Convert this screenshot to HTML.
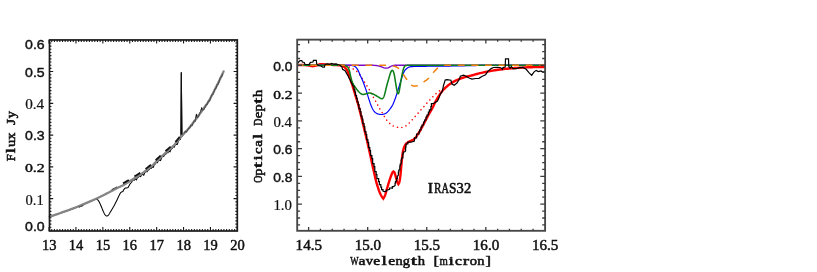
<!DOCTYPE html>
<html><head><meta charset="utf-8"><title>IRAS32 spectrum</title>
<style>
html,body{margin:0;padding:0;background:#fff;}
body{width:817px;height:272px;overflow:hidden;font-family:"Liberation Sans",sans-serif;}
svg{display:block;will-change:transform;}
</style></head><body>
<svg width="817" height="272" viewBox="0 0 817 272">
<rect x="0" y="0" width="817" height="272" fill="#ffffff"/>
<g fill="none" stroke-linejoin="round" stroke-linecap="butt">
<path d="M49.7 216.85 L51.7 216.18 L53.7 215.51 L55.7 214.85 L57.7 214.17 L59.7 213.49 L61.7 212.79 L63.7 212.09 L65.7 211.37 L67.7 210.65 L69.7 209.92 L71.7 209.18 L73.7 208.43 L75.7 207.66 L77.7 206.86 L79.7 206.04 L81.7 205.19 L83.7 204.34 L85.7 203.48 L87.7 202.63 L89.7 201.78 L91.7 200.92 L93.7 200.05 L95.7 199.16 L96.6 198.9 L97.07 199.29 L97.75 199.87 L98.4 200.6 L98.95 201.48 L99.47 202.5 L100 203.6 L100.53 204.77 L101.07 206.03 L101.6 207.3 L102.14 208.62 L102.68 209.97 L103.2 211.2 L103.69 212.29 L104.16 213.27 L104.6 214.1 L105.02 214.74 L105.41 215.23 L105.8 215.6 L106.17 215.85 L106.54 215.97 L106.9 216 L107.26 215.94 L107.63 215.77 L108 215.5 L108.39 215.1 L108.79 214.59 L109.2 214 L109.62 213.33 L110.05 212.58 L110.5 211.8 L110.98 211 L111.49 210.16 L112 209.3 L112.53 208.43 L113.06 207.53 L113.6 206.6 L114.13 205.63 L114.67 204.63 L115.2 203.6 L115.73 202.56 L116.27 201.49 L116.8 200.4 L117.35 199.24 L117.9 198.07 L118.4 197 L118.83 196.11 L119.22 195.33 L119.6 194.6 L120.01 193.83 L120.42 193.1 L120.7 192.6 L121.6 191.9 L122.9 191.4 L123.8 189.6 L125.1 188.1 L126.6 187.9 L128.1 187.5 L129.2 185.4 L130.3 183.6 L131.4 182.5 L132.2 181.08 L133.25 179.74 L134.3 180.3 L135.35 178.77 L136.4 179.92 L137.45 177.57 L138.5 177.3 L139.55 175.91 L140.6 176.7 L141.65 174.58 L142.7 174.54 L143.75 175.29 L144.8 172.62 L145.85 171.35 L146.9 171.87 L147.95 170.18 L149 169.67 L150.05 168.14 L151.1 168.47 L152.15 166.66 L153.2 167.49 L154.25 164.76 L155.3 164.1 L156.35 162.34 L157.4 162.79 L158.45 160.37 L159.5 160.07 L160.55 160.58 L161.6 157.7 L162.65 156.23 L163.7 156.57 L164.75 154.74 L165.8 154.13 L166.85 152.54 L167.9 152.84 L168.95 151.01 L170 151.85 L171.05 149.18 L172.1 148.59 L173.15 146.85 L174.2 147.27 L175.25 144.71 L176.3 144.19 L177.35 144.4 L178.4 141.19 L179.45 139.38 L180.5 139.39 L180.9 135 L181.1 100 L181.3 72.5 L181.6 100 L182 136.4 L182.8 135.4 L184.2 133.41 L185.3 131.37 L186.4 132.03 L187.5 130.14 L188.6 128.2 L189.7 128.08 L190.8 125.32 L191.9 125.72 L193 123.2 L194.1 120.85 L195.2 121.2 L195.6 119.4 L196.5 114.2 L197.3 117.6 L198.5 116.59 L199.6 113.68 L200.9 111 L201.7 107.8 L202.5 110.2 L204 109.13 L205.1 106.91 L206.2 104.65 L207.3 104.23 L208.4 101.1 L209.5 101.03 L210.6 97.95 L211.7 94.98 L212.8 94.65 L213.9 91.8 L215 88.95 L216.1 87.99 L217.2 84.39 L218.3 83.95 L219.4 80.57 L220.5 77.36 L221.6 76.81 L222.7 73.74" stroke="#000" stroke-width="1.05"/>
<path d="M49.7 216.6 L51.03 216.16 L52.85 215.55 L55.01 214.83 L57.36 214.04 L59.74 213.22 L62 212.44 L64.2 211.66 L66.49 210.84 L68.81 210 L71.1 209.16 L73.32 208.33 L75.4 207.53 L77.33 206.77 L79.14 206.02 L80.88 205.3 L82.57 204.57 L84.27 203.84 L86 203.1 L87.78 202.34 L89.58 201.58 L91.37 200.81 L93.16 200.04 L94.9 199.27 L96.6 198.5 L98.23 197.74 L99.8 196.99 L101.34 196.24 L102.87 195.48 L104.42 194.7 L106 193.9 L107.64 193.06 L109.33 192.17 L111.03 191.27 L112.71 190.38 L114.35 189.52 L115.9 188.71 L117.36 187.99 L118.74 187.32 L120.07 186.69 L121.37 186.06 L122.68 185.41 L124 184.7 L125.35 183.93 L126.71 183.11 L128.07 182.27 L129.41 181.42 L130.73 180.59 L132 179.8 L133.23 179.05 L134.42 178.33 L135.58 177.63 L136.73 176.92 L137.86 176.21 L139 175.47 L140.14 174.71 L141.27 173.94 L142.39 173.16 L143.51 172.36 L144.61 171.56 L145.7 170.76 L146.78 169.96 L147.84 169.16 L148.89 168.35 L149.94 167.53 L150.97 166.68 L152 165.8 L153.02 164.87 L154.02 163.89 L155.02 162.89 L156.01 161.88 L157 160.88 L158 159.9 L159.01 158.94 L160.02 157.98 L161.04 157.03 L162.04 156.09 L163.03 155.18 L164 154.3 L164.93 153.47 L165.84 152.7 L166.73 151.94 L167.61 151.19 L168.5 150.42 L169.4 149.6 L170.31 148.76 L171.2 147.94 L172.1 147.09 L173.02 146.19 L173.98 145.2 L175 144.1 L176.09 142.85 L177.23 141.45 L178.41 139.98 L179.61 138.47 L180.82 137 L182 135.6 L183.16 134.31 L184.3 133.1 L185.45 131.92 L186.61 130.71 L187.79 129.43 L189 128.04 L190.28 126.48 L191.63 124.78 L192.99 123.01 L194.34 121.24 L195.62 119.53 L196.8 117.97 L197.84 116.58 L198.77 115.32 L199.64 114.13 L200.49 112.95 L201.36 111.72 L202.3 110.39 L203.31 108.98 L204.37 107.53 L205.44 106.03 L206.53 104.48 L207.62 102.84 L208.7 101.12 L209.79 99.23 L210.91 97.18 L212.02 95.06 L213.11 92.94 L214.15 90.91 L215.1 89.05 L215.95 87.39 L216.73 85.85 L217.44 84.4 L218.13 83 L218.81 81.6 L219.5 80.17 L220.25 78.6 L221.04 76.91 L221.82 75.23 L222.55 73.67 L223.16 72.35 L223.6 71.4" stroke="#858585" stroke-width="2.3" stroke-linecap="round"/>
<path d="M123 183.39 L124.5 182.51 L126 181.64 L127.5 180.72 L129 179.78 L130.5 178.84 L132 177.9 L133.5 176.99 L135 176.08 L136.5 175.16 L138 174.22 L139.5 173.24 L141 172.23 L142.5 171.18 L144 170.11 L145.5 169.01 L147 167.89 L148.5 166.76 L150 165.58 L151.5 164.33 L153 162.98 L154.5 161.51 L156 159.99 L157.5 158.49 L159 157.05 L160.5 155.63 L162 154.23 L163.5 152.85 L165 151.52 L166.5 150.23 L168 148.95 L169.5 147.61 L171 146.26 L172.5 144.89 L174 143.43 L175.5 141.82 L177 140.09 L178.5 138.28 L180 136.47" stroke="#111" stroke-width="1.8" stroke-dasharray="6.8 6.6" stroke-dashoffset="0"/>
<path d="M111.6 189.62 L113 188.88 L114.4 188.14 L115.8 187.41 L117 186.81" stroke="#222" stroke-width="0.8"/>
<path d="M184.2 133.41 L185.3 131.37 L186.4 132.03 L187.5 130.14 L188.6 128.2 L189.7 128.08 L190.8 125.32 L191.9 125.72 L193 123.2 L194.1 120.85 L195.2 121.2 L195.6 119.4 L196.5 114.2 L197.3 117.6 L198.5 116.59 L199.6 113.68 L200.9 111 L201.7 107.8 L202.5 110.2 L204 109.13 L205.1 106.91 L206.2 104.65 L207.3 104.23 L208.4 101.1 L209.5 101.03 L210.6 97.95 L211.7 94.98 L212.8 94.65 L213.9 91.8 L215 88.95 L216.1 87.99 L217.2 84.39 L218.3 83.95 L219.4 80.57 L220.5 77.36 L221.6 76.81 L222.7 73.74" stroke="#222" stroke-width="0.75" stroke-opacity="0.8"/>
<path d="M78.6 206.85 L80 207.26 L81 206.14 L82.2 206.43 L83.2 204.9" stroke="#222" stroke-width="0.8"/>
<path d="M180.9 134 L181.1 100 L181.3 72.5 L181.6 100 L182 135" stroke="#111" stroke-width="0.8"/>
</g>
<rect x="49.5" y="39.95" width="187.8" height="191.05" fill="none" stroke="#1a1a1a" stroke-width="1.7"/>
<path d="M49.05 231 v-3.9M49.05 39.95 v3.6M51.74 231 v-2.1M51.74 39.95 v2.1M54.43 231 v-2.1M54.43 39.95 v2.1M57.12 231 v-2.1M57.12 39.95 v2.1M59.81 231 v-2.1M59.81 39.95 v2.1M62.5 231 v-2.1M62.5 39.95 v2.1M65.19 231 v-2.1M65.19 39.95 v2.1M67.88 231 v-2.1M67.88 39.95 v2.1M70.57 231 v-2.1M70.57 39.95 v2.1M73.26 231 v-2.1M73.26 39.95 v2.1M75.95 231 v-3.9M75.95 39.95 v3.6M78.64 231 v-2.1M78.64 39.95 v2.1M81.33 231 v-2.1M81.33 39.95 v2.1M84.02 231 v-2.1M84.02 39.95 v2.1M86.71 231 v-2.1M86.71 39.95 v2.1M89.4 231 v-2.1M89.4 39.95 v2.1M92.09 231 v-2.1M92.09 39.95 v2.1M94.78 231 v-2.1M94.78 39.95 v2.1M97.47 231 v-2.1M97.47 39.95 v2.1M100.16 231 v-2.1M100.16 39.95 v2.1M102.85 231 v-3.9M102.85 39.95 v3.6M105.54 231 v-2.1M105.54 39.95 v2.1M108.23 231 v-2.1M108.23 39.95 v2.1M110.92 231 v-2.1M110.92 39.95 v2.1M113.61 231 v-2.1M113.61 39.95 v2.1M116.3 231 v-2.1M116.3 39.95 v2.1M118.99 231 v-2.1M118.99 39.95 v2.1M121.68 231 v-2.1M121.68 39.95 v2.1M124.37 231 v-2.1M124.37 39.95 v2.1M127.06 231 v-2.1M127.06 39.95 v2.1M129.75 231 v-3.9M129.75 39.95 v3.6M132.44 231 v-2.1M132.44 39.95 v2.1M135.13 231 v-2.1M135.13 39.95 v2.1M137.82 231 v-2.1M137.82 39.95 v2.1M140.51 231 v-2.1M140.51 39.95 v2.1M143.2 231 v-2.1M143.2 39.95 v2.1M145.89 231 v-2.1M145.89 39.95 v2.1M148.58 231 v-2.1M148.58 39.95 v2.1M151.27 231 v-2.1M151.27 39.95 v2.1M153.96 231 v-2.1M153.96 39.95 v2.1M156.65 231 v-3.9M156.65 39.95 v3.6M159.34 231 v-2.1M159.34 39.95 v2.1M162.03 231 v-2.1M162.03 39.95 v2.1M164.72 231 v-2.1M164.72 39.95 v2.1M167.41 231 v-2.1M167.41 39.95 v2.1M170.1 231 v-2.1M170.1 39.95 v2.1M172.79 231 v-2.1M172.79 39.95 v2.1M175.48 231 v-2.1M175.48 39.95 v2.1M178.17 231 v-2.1M178.17 39.95 v2.1M180.86 231 v-2.1M180.86 39.95 v2.1M183.55 231 v-3.9M183.55 39.95 v3.6M186.24 231 v-2.1M186.24 39.95 v2.1M188.93 231 v-2.1M188.93 39.95 v2.1M191.62 231 v-2.1M191.62 39.95 v2.1M194.31 231 v-2.1M194.31 39.95 v2.1M197 231 v-2.1M197 39.95 v2.1M199.69 231 v-2.1M199.69 39.95 v2.1M202.38 231 v-2.1M202.38 39.95 v2.1M205.07 231 v-2.1M205.07 39.95 v2.1M207.76 231 v-2.1M207.76 39.95 v2.1M210.45 231 v-3.9M210.45 39.95 v3.6M213.14 231 v-2.1M213.14 39.95 v2.1M215.83 231 v-2.1M215.83 39.95 v2.1M218.52 231 v-2.1M218.52 39.95 v2.1M221.21 231 v-2.1M221.21 39.95 v2.1M223.9 231 v-2.1M223.9 39.95 v2.1M226.59 231 v-2.1M226.59 39.95 v2.1M229.28 231 v-2.1M229.28 39.95 v2.1M231.97 231 v-2.1M231.97 39.95 v2.1M234.66 231 v-2.1M234.66 39.95 v2.1M237.35 231 v-3.9M237.35 39.95 v3.6M49.5 227.27 h1.9M237.3 227.27 h-1.9M49.5 224.09 h1.9M237.3 224.09 h-1.9M49.5 220.92 h1.9M237.3 220.92 h-1.9M49.5 217.74 h1.9M237.3 217.74 h-1.9M49.5 214.56 h1.9M237.3 214.56 h-1.9M49.5 211.38 h1.9M237.3 211.38 h-1.9M49.5 208.2 h1.9M237.3 208.2 h-1.9M49.5 205.03 h1.9M237.3 205.03 h-1.9M49.5 201.85 h1.9M237.3 201.85 h-1.9M49.5 198.67 h3.7M237.3 198.67 h-3.7M49.5 195.49 h1.9M237.3 195.49 h-1.9M49.5 192.31 h1.9M237.3 192.31 h-1.9M49.5 189.14 h1.9M237.3 189.14 h-1.9M49.5 185.96 h1.9M237.3 185.96 h-1.9M49.5 182.78 h1.9M237.3 182.78 h-1.9M49.5 179.6 h1.9M237.3 179.6 h-1.9M49.5 176.42 h1.9M237.3 176.42 h-1.9M49.5 173.25 h1.9M237.3 173.25 h-1.9M49.5 170.07 h1.9M237.3 170.07 h-1.9M49.5 166.89 h3.7M237.3 166.89 h-3.7M49.5 163.71 h1.9M237.3 163.71 h-1.9M49.5 160.53 h1.9M237.3 160.53 h-1.9M49.5 157.36 h1.9M237.3 157.36 h-1.9M49.5 154.18 h1.9M237.3 154.18 h-1.9M49.5 151 h1.9M237.3 151 h-1.9M49.5 147.82 h1.9M237.3 147.82 h-1.9M49.5 144.64 h1.9M237.3 144.64 h-1.9M49.5 141.47 h1.9M237.3 141.47 h-1.9M49.5 138.29 h1.9M237.3 138.29 h-1.9M49.5 135.11 h3.7M237.3 135.11 h-3.7M49.5 131.93 h1.9M237.3 131.93 h-1.9M49.5 128.75 h1.9M237.3 128.75 h-1.9M49.5 125.58 h1.9M237.3 125.58 h-1.9M49.5 122.4 h1.9M237.3 122.4 h-1.9M49.5 119.22 h1.9M237.3 119.22 h-1.9M49.5 116.04 h1.9M237.3 116.04 h-1.9M49.5 112.86 h1.9M237.3 112.86 h-1.9M49.5 109.69 h1.9M237.3 109.69 h-1.9M49.5 106.51 h1.9M237.3 106.51 h-1.9M49.5 103.33 h3.7M237.3 103.33 h-3.7M49.5 100.15 h1.9M237.3 100.15 h-1.9M49.5 96.97 h1.9M237.3 96.97 h-1.9M49.5 93.8 h1.9M237.3 93.8 h-1.9M49.5 90.62 h1.9M237.3 90.62 h-1.9M49.5 87.44 h1.9M237.3 87.44 h-1.9M49.5 84.26 h1.9M237.3 84.26 h-1.9M49.5 81.08 h1.9M237.3 81.08 h-1.9M49.5 77.91 h1.9M237.3 77.91 h-1.9M49.5 74.73 h1.9M237.3 74.73 h-1.9M49.5 71.55 h3.7M237.3 71.55 h-3.7M49.5 68.37 h1.9M237.3 68.37 h-1.9M49.5 65.19 h1.9M237.3 65.19 h-1.9M49.5 62.02 h1.9M237.3 62.02 h-1.9M49.5 58.84 h1.9M237.3 58.84 h-1.9M49.5 55.66 h1.9M237.3 55.66 h-1.9M49.5 52.48 h1.9M237.3 52.48 h-1.9M49.5 49.3 h1.9M237.3 49.3 h-1.9M49.5 46.13 h1.9M237.3 46.13 h-1.9M49.5 42.95 h1.9M237.3 42.95 h-1.9" stroke="#1a1a1a" stroke-width="1.1" fill="none"/>
<g fill="none" stroke-linejoin="round">
<path d="M297.5 65.2 L298.1 65.16 L298.94 65.11 L299.94 65.05 L301 64.99 L302.05 64.95 L303 64.95 L303.87 64.98 L304.72 65.04 L305.56 65.11 L306.38 65.2 L307.2 65.3 L308 65.4 L308.79 65.53 L309.57 65.7 L310.34 65.88 L311.1 66.05 L311.85 66.16 L312.6 66.2 L313.35 66.15 L314.11 66.03 L314.86 65.87 L315.59 65.68 L316.31 65.48 L317 65.3 L317.64 65.11 L318.23 64.89 L318.79 64.67 L319.37 64.46 L320 64.3 L320.7 64.2 L321.48 64.18 L322.32 64.23 L323.21 64.31 L324.12 64.42 L325.06 64.52 L326 64.6 L326.96 64.66 L327.95 64.71 L328.96 64.76 L329.97 64.8 L330.99 64.85 L332 64.9 L333.02 64.95 L334.07 64.99 L335.12 65.03 L336.15 65.08 L337.12 65.13 L338 65.2 L338.79 65.27 L339.52 65.33 L340.19 65.41 L340.81 65.5 L341.41 65.63 L342 65.8 L342.56 66.01 L343.09 66.25 L343.59 66.52 L344.07 66.84 L344.54 67.19 L345 67.6 L345.45 68.06 L345.9 68.56 L346.32 69.1 L346.74 69.69 L347.13 70.32 L347.5 71 L347.84 71.74 L348.16 72.55 L348.46 73.4 L348.74 74.27 L349.02 75.15 L349.3 76 L349.58 76.83 L349.84 77.67 L350.11 78.5 L350.37 79.33 L350.63 80.17 L350.9 81 L351.16 81.78 L351.41 82.48 L351.66 83.19 L351.93 83.96 L352.24 84.88 L352.6 86 L353.02 87.38 L353.5 88.96 L354.02 90.69 L354.55 92.48 L355.08 94.28 L355.6 96 L356.1 97.64 L356.6 99.26 L357.1 100.88 L357.6 102.52 L358.1 104.22 L358.6 106 L359.1 107.88 L359.6 109.83 L360.1 111.84 L360.6 113.88 L361.1 115.94 L361.6 118 L362.1 120.06 L362.59 122.13 L363.09 124.21 L363.59 126.32 L364.09 128.45 L364.6 130.6 L365.13 132.8 L365.67 135.04 L366.21 137.3 L366.76 139.56 L367.29 141.8 L367.8 144 L368.29 146.14 L368.76 148.24 L369.23 150.32 L369.68 152.4 L370.14 154.49 L370.6 156.6 L371.07 158.76 L371.53 160.94 L372 163.14 L372.47 165.33 L372.93 167.49 L373.4 169.6 L373.87 171.69 L374.33 173.79 L374.8 175.85 L375.27 177.86 L375.73 179.79 L376.2 181.6 L376.67 183.32 L377.15 184.96 L377.62 186.51 L378.1 187.98 L378.56 189.34 L379 190.6 L379.43 191.74 L379.85 192.77 L380.26 193.7 L380.65 194.54 L381.03 195.3 L381.4 196 L381.77 196.63 L382.14 197.17 L382.5 197.64 L382.83 198.03 L383.1 198.35 L383.3 198.6 L383.48 198.28 L383.74 197.87 L384.04 197.38 L384.36 196.79 L384.69 196.13 L385 195.4 L385.29 194.57 L385.59 193.64 L385.88 192.63 L386.18 191.56 L386.49 190.48 L386.8 189.4 L387.12 188.3 L387.45 187.16 L387.79 186 L388.13 184.84 L388.46 183.7 L388.8 182.6 L389.14 181.53 L389.48 180.47 L389.83 179.42 L390.16 178.42 L390.49 177.47 L390.8 176.6 L391.1 175.78 L391.38 175.01 L391.66 174.29 L391.92 173.64 L392.17 173.08 L392.4 172.6 L392.62 172.24 L392.84 171.98 L393.05 171.8 L393.23 171.68 L393.39 171.59 L393.5 171.5 L393.62 171.6 L393.77 171.71 L393.96 171.85 L394.17 172.06 L394.39 172.37 L394.6 172.8 L394.82 173.4 L395.04 174.14 L395.28 174.98 L395.52 175.87 L395.76 176.76 L396 177.6 L396.24 178.43 L396.48 179.31 L396.73 180.19 L396.96 181.02 L397.19 181.77 L397.4 182.4 L397.6 182.89 L397.8 183.29 L397.99 183.6 L398.16 183.84 L398.3 184.04 L398.4 184.2 L398.51 184.01 L398.66 183.79 L398.84 183.5 L399.03 183.13 L399.22 182.64 L399.4 182 L399.57 181.21 L399.74 180.3 L399.91 179.26 L400.07 178.13 L400.24 176.9 L400.4 175.6 L400.56 174.18 L400.71 172.63 L400.86 170.99 L401 169.3 L401.15 167.63 L401.3 166 L401.45 164.39 L401.59 162.76 L401.73 161.14 L401.88 159.55 L402.03 158.03 L402.2 156.6 L402.37 155.27 L402.55 154.01 L402.73 152.82 L402.93 151.7 L403.15 150.62 L403.4 149.6 L403.68 148.62 L403.98 147.69 L404.3 146.81 L404.64 146 L405.01 145.26 L405.4 144.6 L405.82 144.04 L406.26 143.58 L406.72 143.19 L407.21 142.84 L407.7 142.52 L408.2 142.2 L408.71 141.89 L409.24 141.62 L409.77 141.38 L410.32 141.13 L410.86 140.88 L411.4 140.6 L411.94 140.31 L412.47 140.04 L413.01 139.75 L413.55 139.43 L414.08 139.05 L414.6 138.6 L415.11 138.07 L415.6 137.47 L416.09 136.82 L416.58 136.13 L417.08 135.38 L417.6 134.6 L418.14 133.77 L418.7 132.9 L419.26 131.97 L419.84 131.01 L420.42 130.02 L421 129 L421.59 127.94 L422.18 126.84 L422.78 125.7 L423.38 124.54 L423.99 123.37 L424.6 122.2 L425.22 121.02 L425.85 119.81 L426.49 118.59 L427.13 117.37 L427.76 116.17 L428.4 115 L429.03 113.89 L429.65 112.82 L430.27 111.77 L430.9 110.71 L431.54 109.6 L432.2 108.4 L432.87 107.1 L433.53 105.72 L434.21 104.29 L434.91 102.84 L435.64 101.4 L436.4 100 L437.21 98.6 L438.05 97.19 L438.93 95.78 L439.81 94.4 L440.71 93.1 L441.6 91.9 L442.49 90.8 L443.39 89.79 L444.29 88.84 L445.19 87.95 L446.1 87.11 L447 86.3 L447.9 85.54 L448.79 84.83 L449.69 84.17 L450.59 83.56 L451.49 82.97 L452.4 82.4 L453.32 81.86 L454.24 81.36 L455.16 80.89 L456.1 80.45 L457.04 80.02 L458 79.6 L458.97 79.19 L459.93 78.81 L460.91 78.44 L461.91 78.08 L462.94 77.74 L464 77.4 L465.09 77.08 L466.19 76.79 L467.31 76.51 L468.48 76.23 L469.71 75.93 L471 75.6 L472.36 75.23 L473.78 74.84 L475.25 74.43 L476.78 74.01 L478.36 73.6 L480 73.2 L481.72 72.8 L483.52 72.4 L485.38 72 L487.26 71.61 L489.14 71.24 L491 70.9 L492.83 70.59 L494.67 70.3 L496.5 70.03 L498.33 69.77 L500.17 69.53 L502 69.3 L503.81 69.08 L505.59 68.89 L507.38 68.7 L509.19 68.53 L511.05 68.36 L513 68.2 L515.07 68.04 L517.26 67.89 L519.5 67.75 L521.74 67.62 L523.93 67.5 L526 67.4 L527.98 67.32 L529.91 67.26 L531.79 67.21 L533.6 67.17 L535.34 67.14 L537 67.1 L538.65 67.06 L540.3 67.02 L541.89 66.98 L543.32 66.95 L544.52 66.92 L545.4 66.9" stroke="#ff0000" stroke-width="2.4" stroke-linejoin="miter" stroke-miterlimit="6"/>
<path d="M345 65.8 L345.47 65.93 L346.11 66.1 L346.88 66.31 L347.7 66.55 L348.53 66.82 L349.3 67.1 L350.03 67.41 L350.78 67.74 L351.53 68.11 L352.27 68.49 L352.99 68.89 L353.7 69.3 L354.36 69.67 L354.98 70 L355.58 70.35 L356.2 70.77 L356.86 71.34 L357.6 72.1 L358.46 73.15 L359.42 74.47 L360.43 75.92 L361.42 77.4 L362.33 78.76 L363.1 79.9 L363.7 80.79 L364.19 81.52 L364.59 82.15 L364.96 82.72 L365.31 83.29 L365.7 83.9 L366.11 84.54 L366.51 85.18 L366.91 85.81 L367.31 86.43 L367.7 87.06 L368.1 87.7 L368.5 88.33 L368.9 88.96 L369.31 89.59 L369.71 90.24 L370.11 90.9 L370.5 91.6 L370.89 92.34 L371.27 93.13 L371.65 93.94 L372.03 94.75 L372.41 95.54 L372.8 96.3 L373.2 97.02 L373.6 97.71 L374.01 98.39 L374.41 99.06 L374.81 99.72 L375.2 100.4 L375.58 101.08 L375.94 101.76 L376.31 102.44 L376.67 103.12 L377.03 103.81 L377.4 104.5 L377.78 105.21 L378.15 105.93 L378.53 106.66 L378.91 107.39 L379.3 108.1 L379.7 108.8 L380.11 109.47 L380.52 110.12 L380.94 110.76 L381.37 111.39 L381.79 112.04 L382.2 112.7 L382.6 113.38 L382.99 114.08 L383.38 114.79 L383.77 115.5 L384.18 116.2 L384.6 116.9 L385.04 117.6 L385.49 118.3 L385.94 119.01 L386.41 119.7 L386.9 120.36 L387.4 121 L387.92 121.61 L388.44 122.2 L388.99 122.77 L389.54 123.31 L390.12 123.82 L390.7 124.3 L391.29 124.74 L391.89 125.16 L392.51 125.54 L393.14 125.9 L393.8 126.22 L394.5 126.5 L395.24 126.75 L396.03 126.98 L396.85 127.17 L397.68 127.32 L398.5 127.43 L399.3 127.5 L400.09 127.53 L400.87 127.52 L401.66 127.48 L402.43 127.38 L403.18 127.22 L403.9 127 L404.6 126.7 L405.27 126.32 L405.93 125.88 L406.57 125.4 L407.19 124.9 L407.8 124.4 L408.38 123.88 L408.94 123.34 L409.49 122.77 L410.02 122.19 L410.56 121.59 L411.1 121 L411.65 120.4 L412.2 119.79 L412.75 119.17 L413.3 118.54 L413.85 117.92 L414.4 117.3 L414.95 116.68 L415.51 116.06 L416.06 115.44 L416.61 114.83 L417.16 114.21 L417.7 113.6 L418.23 112.99 L418.75 112.38 L419.27 111.77 L419.78 111.17 L420.29 110.58 L420.8 110 L421.3 109.44 L421.8 108.89 L422.29 108.36 L422.79 107.82 L423.29 107.27 L423.8 106.7 L424.32 106.1 L424.85 105.49 L425.39 104.86 L425.93 104.23 L426.46 103.6 L427 103 L427.53 102.42 L428.06 101.85 L428.59 101.29 L429.12 100.74 L429.66 100.17 L430.2 99.6 L430.76 99.01 L431.32 98.4 L431.89 97.79 L432.46 97.18 L433.03 96.58 L433.6 96 L434.17 95.43 L434.75 94.87 L435.33 94.33 L435.9 93.79 L436.46 93.28 L437 92.8 L437.56 92.33 L438.14 91.85 L438.71 91.4 L439.24 90.99 L439.68 90.65 L440 90.4" stroke="#ff0000" stroke-width="1.6" stroke-dasharray="0.01 4.4" stroke-linecap="round"/>
<path d="M297.5 65.45 L345 65.45 L350 65.45 L350.42 65.47 L351.01 65.49 L351.7 65.51 L352.42 65.56 L353.11 65.65 L353.7 65.8 L354.19 66 L354.63 66.25 L355.03 66.53 L355.42 66.86 L355.79 67.21 L356.16 67.6 L356.52 68 L356.86 68.43 L357.19 68.88 L357.52 69.39 L357.85 69.95 L358.2 70.6 L358.57 71.36 L358.95 72.22 L359.35 73.14 L359.74 74.09 L360.13 75.02 L360.5 75.9 L360.87 76.72 L361.23 77.53 L361.59 78.32 L361.94 79.09 L362.28 79.85 L362.6 80.6 L362.89 81.31 L363.16 81.99 L363.41 82.64 L363.66 83.31 L363.92 84.02 L364.2 84.8 L364.51 85.63 L364.83 86.5 L365.16 87.41 L365.5 88.36 L365.85 89.36 L366.2 90.4 L366.56 91.51 L366.92 92.7 L367.29 93.94 L367.66 95.19 L368.03 96.42 L368.4 97.6 L368.77 98.75 L369.13 99.9 L369.5 101.04 L369.87 102.14 L370.23 103.2 L370.6 104.2 L370.96 105.15 L371.33 106.05 L371.69 106.91 L372.05 107.73 L372.42 108.49 L372.8 109.2 L373.18 109.86 L373.55 110.46 L373.92 111.01 L374.31 111.52 L374.72 111.98 L375.16 112.4 L375.64 112.77 L376.15 113.09 L376.68 113.37 L377.22 113.61 L377.76 113.82 L378.28 114 L378.79 114.16 L379.3 114.29 L379.8 114.38 L380.31 114.45 L380.8 114.49 L381.3 114.5 L381.79 114.48 L382.29 114.44 L382.78 114.37 L383.26 114.27 L383.74 114.15 L384.2 114 L384.66 113.83 L385.1 113.63 L385.54 113.41 L385.97 113.17 L386.39 112.9 L386.8 112.6 L387.19 112.27 L387.57 111.91 L387.94 111.53 L388.3 111.13 L388.65 110.72 L389 110.3 L389.35 109.88 L389.69 109.45 L390.02 109.01 L390.35 108.55 L390.67 108.08 L391 107.6 L391.32 107.12 L391.63 106.64 L391.94 106.16 L392.26 105.63 L392.57 105.05 L392.9 104.4 L393.24 103.65 L393.6 102.81 L393.96 101.93 L394.31 101.01 L394.67 100.09 L395 99.2 L395.32 98.34 L395.62 97.49 L395.92 96.64 L396.21 95.78 L396.5 94.9 L396.8 94 L397.1 93.07 L397.4 92.12 L397.7 91.15 L398 90.17 L398.3 89.19 L398.6 88.2 L398.9 87.2 L399.21 86.19 L399.51 85.16 L399.81 84.15 L400.11 83.16 L400.4 82.2 L400.68 81.27 L400.95 80.36 L401.22 79.48 L401.48 78.61 L401.74 77.79 L402 77 L402.26 76.25 L402.51 75.53 L402.76 74.85 L403 74.2 L403.25 73.58 L403.5 73 L403.75 72.45 L403.99 71.94 L404.23 71.46 L404.48 71.01 L404.73 70.59 L405 70.2 L405.28 69.84 L405.56 69.51 L405.86 69.21 L406.16 68.93 L406.47 68.66 L406.8 68.4 L407.13 68.15 L407.47 67.9 L407.83 67.67 L408.19 67.46 L408.58 67.26 L409 67.1 L409.42 66.97 L409.83 66.86 L410.26 66.78 L410.75 66.72 L411.32 66.66 L412 66.6 L412.76 66.54 L413.56 66.49 L414.44 66.45 L415.44 66.41 L416.62 66.38 L418 66.35 L419.62 66.32 L421.44 66.31 L423.44 66.29 L425.56 66.28 L427.76 66.26 L430 66.25 L432.33 66.24 L434.78 66.22 L437.31 66.21 L439.89 66.2 L442.47 66.18 L445 66.15 L447.44 66.11 L449.81 66.07 L452.19 66.02 L454.63 65.96 L457.21 65.91 L460 65.85 L463.28 65.78 L467.04 65.71 L470.94 65.63 L474.63 65.56 L477.77 65.49 L480 65.45 L545.4 65.45" stroke="#0000ff" stroke-width="1.2"/>
<path d="M297.5 65.2 L360 65.2 L361 65.2 L362 65.2 L363 65.2 L364 65.2 L365 65.2 L366 65.2 L367 65.2 L368 65.2 L369 65.2 L370 65.21 L371 65.22 L372 65.23 L373 65.25 L374 65.3 L375 65.36 L376 65.46 L377 65.61 L378 65.81 L379 66.06 L380 66.37 L381 66.72 L382 67.1 L383 67.47 L384 67.79 L385 68.04 L386 68.18 L387 68.17 L388 67.9 L389 67.4 L390 66.81 L391 66.25 L392 65.82 L393 65.53 L394 65.36 L395 65.27 L396 65.23 L397 65.21 L398 65.2 L399 65.2 L400 65.2 L401 65.2 L402 65.2 L403 65.2 L404 65.2 L405 65.2 L406 65.2 L407 65.2 L408 65.2 L409 65.2 L410 65.2 L411 65.2 L412 65.2 L413 65.2 L414 65.2 L415 65.2 L545.4 65.2" stroke="#7d08c4" stroke-width="1.35"/>
<path d="M297.5 65.2 L343 65.2 L346 65.8 L346.22 65.98 L346.54 66.21 L346.91 66.49 L347.3 66.81 L347.68 67.19 L348 67.6 L348.28 68.06 L348.54 68.57 L348.78 69.12 L349.02 69.72 L349.24 70.35 L349.45 71 L349.65 71.7 L349.82 72.44 L349.99 73.22 L350.15 74.02 L350.32 74.82 L350.5 75.6 L350.69 76.37 L350.87 77.15 L351.06 77.92 L351.26 78.7 L351.47 79.46 L351.7 80.2 L351.94 80.93 L352.2 81.64 L352.46 82.34 L352.75 83.04 L353.06 83.72 L353.4 84.4 L353.78 85.07 L354.19 85.73 L354.62 86.38 L355.07 87.03 L355.53 87.67 L356 88.3 L356.48 88.94 L356.97 89.6 L357.47 90.25 L357.98 90.88 L358.49 91.47 L359 92 L359.51 92.49 L360.01 92.97 L360.52 93.4 L361.03 93.78 L361.56 94.08 L362.1 94.3 L362.66 94.41 L363.23 94.42 L363.81 94.36 L364.4 94.25 L365 94.12 L365.6 94 L366.2 93.85 L366.8 93.63 L367.4 93.4 L368.01 93.19 L368.65 93.04 L369.3 93 L369.98 93.07 L370.69 93.22 L371.41 93.43 L372.14 93.69 L372.87 93.99 L373.6 94.3 L374.34 94.66 L375.11 95.07 L375.88 95.53 L376.63 95.98 L377.35 96.42 L378 96.8 L378.6 97.15 L379.16 97.49 L379.69 97.8 L380.17 98.08 L380.61 98.32 L381 98.5 L381.33 98.63 L381.59 98.72 L381.8 98.77 L381.99 98.77 L382.19 98.71 L382.4 98.6 L382.63 98.44 L382.87 98.24 L383.1 97.99 L383.33 97.68 L383.57 97.28 L383.8 96.8 L384.03 96.22 L384.26 95.55 L384.49 94.81 L384.72 93.99 L384.96 93.12 L385.2 92.2 L385.45 91.2 L385.71 90.09 L385.98 88.93 L386.25 87.75 L386.53 86.59 L386.8 85.5 L387.08 84.47 L387.36 83.47 L387.64 82.49 L387.93 81.53 L388.22 80.57 L388.5 79.6 L388.79 78.59 L389.09 77.55 L389.38 76.51 L389.67 75.51 L389.95 74.59 L390.2 73.8 L390.43 73.13 L390.65 72.56 L390.85 72.08 L391.04 71.66 L391.22 71.3 L391.4 71 L391.57 70.76 L391.72 70.59 L391.87 70.48 L392.01 70.41 L392.15 70.39 L392.3 70.4 L392.45 70.42 L392.6 70.47 L392.74 70.56 L392.89 70.7 L393.04 70.91 L393.2 71.2 L393.36 71.57 L393.53 72.01 L393.7 72.53 L393.87 73.1 L394.04 73.72 L394.2 74.4 L394.35 75.13 L394.5 75.93 L394.64 76.78 L394.79 77.67 L394.94 78.62 L395.1 79.6 L395.27 80.66 L395.46 81.81 L395.64 83 L395.83 84.19 L396.02 85.34 L396.2 86.4 L396.37 87.39 L396.54 88.36 L396.71 89.29 L396.88 90.15 L397.04 90.93 L397.2 91.6 L397.36 92.19 L397.51 92.7 L397.66 93.14 L397.8 93.47 L397.95 93.7 L398.1 93.8 L398.25 93.77 L398.4 93.63 L398.54 93.38 L398.69 93.01 L398.84 92.55 L399 92 L399.16 91.33 L399.32 90.53 L399.48 89.62 L399.65 88.65 L399.82 87.63 L400 86.6 L400.19 85.51 L400.39 84.35 L400.59 83.14 L400.8 81.92 L401 80.73 L401.2 79.6 L401.39 78.53 L401.57 77.47 L401.76 76.45 L401.94 75.46 L402.12 74.51 L402.3 73.6 L402.48 72.73 L402.66 71.89 L402.84 71.09 L403.03 70.33 L403.21 69.63 L403.4 69 L403.59 68.43 L403.79 67.92 L403.98 67.47 L404.18 67.07 L404.39 66.71 L404.6 66.4 L404.79 66.14 L404.96 65.95 L405.13 65.81 L405.33 65.69 L405.61 65.6 L406 65.5 L406.56 65.41 L407.29 65.34 L408.09 65.29 L408.87 65.26 L409.53 65.23 L410 65.2 L545.4 65.2" stroke="#0c7f18" stroke-width="1.55"/>
<path d="M297.5 65.2 L385 65.2 L390 65.5 L390.44 65.57 L391.06 65.66 L391.78 65.76 L392.56 65.89 L393.32 66.03 L394 66.2 L394.62 66.38 L395.23 66.57 L395.82 66.78 L396.4 67.02 L396.96 67.29 L397.5 67.6 L398.02 67.95 L398.51 68.32 L398.99 68.73 L399.46 69.18 L399.92 69.67 L400.4 70.2 L400.88 70.79 L401.35 71.42 L401.82 72.1 L402.3 72.81 L402.79 73.55 L403.3 74.3 L403.83 75.1 L404.39 75.95 L404.96 76.82 L405.52 77.7 L406.07 78.53 L406.6 79.3 L407.1 80.01 L407.58 80.68 L408.04 81.31 L408.5 81.91 L408.95 82.47" stroke="#f0820e" stroke-width="1.5" stroke-dasharray="6.8 6.95" stroke-dashoffset="0.8"/>
<path d="M545.1 65.2 L450 65.2 L444 65.2 L443.63 65.32 L443.11 65.48 L442.51 65.68 L441.85 65.9 L441.2 66.14 L440.6 66.4 L440.05 66.66 L439.53 66.92 L439 67.2 L438.46 67.53 L437.9 67.92 L437.3 68.4 L436.65 68.98 L435.97 69.65 L435.27 70.39 L434.55 71.17 L433.82 71.98 L433.1 72.8 L432.39 73.66 L431.67 74.59 L430.95 75.54 L430.22 76.48 L429.47 77.38 L428.7 78.2 L427.88 78.94 L427.01 79.64 L426.13 80.3 L425.26 80.91 L424.44 81.48 L423.7 82 L423.05 82.47 L422.47 82.88 L421.94 83.24 L421.43 83.58 L420.92 83.89 L420.4 84.2 L419.86 84.5 L419.31 84.79 L418.76 85.06 L418.23 85.31 L417.7 85.52 L417.2 85.7 L416.72 85.84 L416.26 85.96 L415.81 86.04 L415.37 86.09 L414.93 86.11 L414.5 86.1 L414.07 86.07 L413.66 86.01 L413.24 85.93 L412.83 85.8 L412.42 85.63 L412 85.4 L411.57 85.11 L411.15 84.77 L410.72 84.39 L410.29 83.96 L409.85 83.49 L409.4 83" stroke="#f0820e" stroke-width="1.5" stroke-dasharray="6.8 6.8" stroke-dashoffset="1.1"/>
<path d="M297.6 63.6 L298.6 62 L300.1 60.6 L301.8 60.6 L302.4 62 L304.2 62.4 L304.9 64.3 L309 64.6 L310.4 62.4 L313 62 L313.4 60.3 L316.3 60.3 L316.7 63.8 L318.5 65.7 L320.7 66 L322.9 67.1 L324.4 67.1 L325.1 64.2 L327.4 63.8 L329.6 64.3 L331.8 63.5 L334 64.2 L336.2 63.8 L337.6 64.6 L339.9 65.3 L341.87 66.8 L342.59 69.3 L345.1 70.8 L346.6 73.4 L347.9 75.6 L349 78 L350.1 79.6 L351 82 L352 83.6 L352.9 86 L353.98 86 L353.98 89.6 L354.83 89.6 L354.83 92 L355.51 92 L355.51 95.6 L356.53 95.6 L356.53 98.4 L357.21 98.4 L357.21 102 L358.23 102 L358.23 104.6 L358.91 104.6 L358.91 108.6 L360.1 108.6 L360.1 111.6 L360.89 111.6 L360.89 116 L362.05 116 L362.05 119 L362.82 119 L362.82 123.6 L363.98 123.6 L363.98 126.6 L364.75 126.6 L364.75 131.6 L365.91 131.6 L365.91 134.6 L366.68 134.6 L366.68 139.6 L367.84 139.6 L367.84 142.6 L368.61 142.6 L368.61 147.6 L369.77 147.6 L369.77 150.6 L370.54 150.6 L370.54 155.6 L371.89 155.6 L371.89 158.6 L372.67 158.6 L372.67 163.6 L374.02 163.6 L374.02 166.6 L374.79 166.6 L374.79 171.6 L376.14 171.6 L376.14 174.6 L376.91 174.6 L376.91 178.6 L378.65 178.6 L378.65 181.6 L379.42 181.6 L379.42 184.6 L380.8 184.6 L380.8 187.1 L381.6 187.1 L381.6 189.6 L383 189.6 L383 191 L384.6 191.6 L386.3 191.3 L386.3 190 L387.8 190 L389.6 189.3 L389.6 188 L390.8 188 L392.3 188.2 L392.3 186.6 L393.6 186.6 L395.1 185.5 L395.1 183 L395.5 183 L395.5 181.6 L395.9 181.6 L396.6 180.6 L396.6 178.3 L397.3 178.3 L397.3 176 L397.8 176 L398.4 175 L398.4 172 L398.8 172 L398.8 170 L399.8 170 L399.8 166 L400.2 166 L400.2 164 L401.2 164 L401.2 160 L401.6 160 L401.6 158 L402.8 158 L402.8 154 L403.2 154 L403.2 152 L404.6 152 L405.6 151 L405.6 147 L406 147 L406 144 L407.8 144 L407.8 142.2 L411.1 142.2 L414.4 141 L414.4 137.8 L416.6 137.8 L416.6 134 L419 134 L419 132 L419.6 132 L419.6 130 L421 130 L421 127 L422 127 L422 125 L423.6 125 L423.6 122 L424.6 122 L424.6 120 L426 120 L426 117 L427 117 L427 115 L428.4 115 L428.4 112 L429.4 112 L429.4 109.8 L430.9 109.8 L430.9 106.5 L431.4 106.5 L431.4 103.7 L433.1 103.7 L437.5 101 L439.1 97.6 L440.2 94.3 L442.4 91 L443.5 85.5 L444.7 81.6 L445.2 80 L447 79.6 L450.9 80.2 L452 84.1 L454.2 85.2 L457 83 L459.7 78.5 L460.3 76.3 L463.6 75.2 L466.3 76.3 L469.1 78 L471.9 79.1 L475.7 78.5 L479 78.3 L482.3 76.3 L485.6 74.7 L487.8 71.4 L491.2 68.6 L493.4 67.5 L497.8 67.3 L500.8 67.7 L502.4 69.3 L503 67.6 L505.2 67.1 L505.5 58.8 L508.5 58.8 L508.8 66.5 L510.2 68.2 L511.3 66.5 L512.9 68.7 L516.2 68.7 L519.5 67.6 L522.8 67.4 L526.2 69.3 L528.9 72.6 L531.7 75.4 L533.9 72.1 L536.1 70.4 L538.3 71.5 L541 70.9 L542.7 72.1 L545 71.5" stroke="#000" stroke-width="1.2" stroke-linejoin="miter"/>
</g>
<rect x="297.2" y="39.65" width="247.9" height="191.15" fill="none" stroke="#474747" stroke-width="1.85"/>
<path d="M308.6 230.8 v-3.8M308.6 39.65 v3.8M320.41 230.8 v-2M320.41 39.65 v2M332.23 230.8 v-2M332.23 39.65 v2M344.05 230.8 v-2M344.05 39.65 v2M355.86 230.8 v-2M355.86 39.65 v2M367.68 230.8 v-3.8M367.68 39.65 v3.8M379.49 230.8 v-2M379.49 39.65 v2M391.3 230.8 v-2M391.3 39.65 v2M403.12 230.8 v-2M403.12 39.65 v2M414.94 230.8 v-2M414.94 39.65 v2M426.75 230.8 v-3.8M426.75 39.65 v3.8M438.56 230.8 v-2M438.56 39.65 v2M450.38 230.8 v-2M450.38 39.65 v2M462.2 230.8 v-2M462.2 39.65 v2M474.01 230.8 v-2M474.01 39.65 v2M485.83 230.8 v-3.8M485.83 39.65 v3.8M497.64 230.8 v-2M497.64 39.65 v2M509.45 230.8 v-2M509.45 39.65 v2M521.27 230.8 v-2M521.27 39.65 v2M533.08 230.8 v-2M533.08 39.65 v2M297.2 44.65 h2.9M545.1 44.65 h-2.9M297.2 51.58 h2.9M545.1 51.58 h-2.9M297.2 58.52 h2.9M545.1 58.52 h-2.9M297.2 65.45 h4.8M545.1 65.45 h-4.8M297.2 72.39 h2.9M545.1 72.39 h-2.9M297.2 79.32 h2.9M545.1 79.32 h-2.9M297.2 86.25 h2.9M545.1 86.25 h-2.9M297.2 93.19 h4.8M545.1 93.19 h-4.8M297.2 100.12 h2.9M545.1 100.12 h-2.9M297.2 107.06 h2.9M545.1 107.06 h-2.9M297.2 114 h2.9M545.1 114 h-2.9M297.2 120.93 h4.8M545.1 120.93 h-4.8M297.2 127.87 h2.9M545.1 127.87 h-2.9M297.2 134.8 h2.9M545.1 134.8 h-2.9M297.2 141.74 h2.9M545.1 141.74 h-2.9M297.2 148.67 h4.8M545.1 148.67 h-4.8M297.2 155.61 h2.9M545.1 155.61 h-2.9M297.2 162.54 h2.9M545.1 162.54 h-2.9M297.2 169.47 h2.9M545.1 169.47 h-2.9M297.2 176.41 h4.8M545.1 176.41 h-4.8M297.2 183.34 h2.9M545.1 183.34 h-2.9M297.2 190.28 h2.9M545.1 190.28 h-2.9M297.2 197.21 h2.9M545.1 197.21 h-2.9M297.2 204.15 h4.8M545.1 204.15 h-4.8M297.2 211.08 h2.9M545.1 211.08 h-2.9M297.2 218.02 h2.9M545.1 218.02 h-2.9M297.2 224.95 h2.9M545.1 224.95 h-2.9" stroke="#3c3c3c" stroke-width="1.3" fill="none"/>
<g fill="#111">
<text x="44.7" y="48.5" font-family='"Liberation Sans", sans-serif' font-size="12" text-anchor="end" font-weight="normal" textLength="19.6" lengthAdjust="spacingAndGlyphs" stroke="#111" stroke-width="0.4">0.6</text>
<text x="44.7" y="76.9" font-family='"Liberation Sans", sans-serif' font-size="12" text-anchor="end" font-weight="normal" textLength="19.6" lengthAdjust="spacingAndGlyphs" stroke="#111" stroke-width="0.4">0.5</text>
<text x="44.2" y="108.7" font-family='"Liberation Serif", serif' font-size="14" text-anchor="end" font-weight="normal" textLength="19" lengthAdjust="spacingAndGlyphs" stroke="#111" stroke-width="0.2">0.4</text>
<text x="44.7" y="140.3" font-family='"Liberation Sans", sans-serif' font-size="12" text-anchor="end" font-weight="normal" textLength="19.6" lengthAdjust="spacingAndGlyphs" stroke="#111" stroke-width="0.4">0.3</text>
<text x="44.7" y="172" font-family='"Liberation Serif", serif' font-size="13" text-anchor="end" font-weight="normal" textLength="19.8" lengthAdjust="spacingAndGlyphs" stroke="#111" stroke-width="0.45">0.2</text>
<text x="43.7" y="204.6" font-family='"Liberation Serif", serif' font-size="14" text-anchor="end" font-weight="normal" textLength="18.2" lengthAdjust="spacingAndGlyphs" stroke="#111" stroke-width="0.2">0.1</text>
<text x="44.7" y="231.2" font-family='"Liberation Sans", sans-serif' font-size="12" text-anchor="end" font-weight="normal" textLength="19.6" lengthAdjust="spacingAndGlyphs" stroke="#111" stroke-width="0.4">0.0</text>
<text x="49.15" y="249.9" font-family='"Liberation Serif", serif' font-size="13.6" text-anchor="middle" font-weight="normal" textLength="14.5" lengthAdjust="spacingAndGlyphs" stroke="#111" stroke-width="0.45">13</text>
<text x="76.05" y="249.9" font-family='"Liberation Serif", serif' font-size="13.6" text-anchor="middle" font-weight="normal" textLength="14.5" lengthAdjust="spacingAndGlyphs" stroke="#111" stroke-width="0.45">14</text>
<text x="102.95" y="249.9" font-family='"Liberation Serif", serif' font-size="13.6" text-anchor="middle" font-weight="normal" textLength="14.5" lengthAdjust="spacingAndGlyphs" stroke="#111" stroke-width="0.45">15</text>
<text x="129.85" y="249.9" font-family='"Liberation Serif", serif' font-size="13.6" text-anchor="middle" font-weight="normal" textLength="14.5" lengthAdjust="spacingAndGlyphs" stroke="#111" stroke-width="0.45">16</text>
<text x="156.75" y="249.9" font-family='"Liberation Serif", serif' font-size="13.6" text-anchor="middle" font-weight="normal" textLength="14.5" lengthAdjust="spacingAndGlyphs" stroke="#111" stroke-width="0.45">17</text>
<text x="183.65" y="249.9" font-family='"Liberation Serif", serif' font-size="13.6" text-anchor="middle" font-weight="normal" textLength="14.5" lengthAdjust="spacingAndGlyphs" stroke="#111" stroke-width="0.45">18</text>
<text x="210.55" y="249.9" font-family='"Liberation Serif", serif' font-size="13.6" text-anchor="middle" font-weight="normal" textLength="14.5" lengthAdjust="spacingAndGlyphs" stroke="#111" stroke-width="0.45">19</text>
<text x="237.45" y="249.9" font-family='"Liberation Serif", serif' font-size="13.6" text-anchor="middle" font-weight="normal" textLength="14.5" lengthAdjust="spacingAndGlyphs" stroke="#111" stroke-width="0.45">20</text>
<text x="292.4" y="70.8" font-family='"Liberation Sans", sans-serif' font-size="12" text-anchor="end" font-weight="normal" textLength="19.2" lengthAdjust="spacingAndGlyphs" stroke="#111" stroke-width="0.4">0.0</text>
<text x="292.4" y="98.54" font-family='"Liberation Serif", serif' font-size="13" text-anchor="end" font-weight="normal" textLength="19.2" lengthAdjust="spacingAndGlyphs" stroke="#111" stroke-width="0.45">0.2</text>
<text x="292" y="126.53" font-family='"Liberation Serif", serif' font-size="14" text-anchor="end" font-weight="normal" textLength="18.6" lengthAdjust="spacingAndGlyphs" stroke="#111" stroke-width="0.2">0.4</text>
<text x="292.4" y="154.02" font-family='"Liberation Sans", sans-serif' font-size="12" text-anchor="end" font-weight="normal" textLength="19.2" lengthAdjust="spacingAndGlyphs" stroke="#111" stroke-width="0.4">0.6</text>
<text x="292.4" y="181.76" font-family='"Liberation Sans", sans-serif' font-size="12" text-anchor="end" font-weight="normal" textLength="19.2" lengthAdjust="spacingAndGlyphs" stroke="#111" stroke-width="0.4">0.8</text>
<text x="292" y="209.75" font-family='"Liberation Serif", serif' font-size="14" text-anchor="end" font-weight="normal" textLength="18.6" lengthAdjust="spacingAndGlyphs" stroke="#111" stroke-width="0.2">1.0</text>
<text x="308.8" y="250" font-family='"Liberation Serif", serif' font-size="13.6" text-anchor="middle" font-weight="normal" textLength="26.4" lengthAdjust="spacingAndGlyphs" stroke="#111" stroke-width="0.45">14.5</text>
<text x="367.88" y="250" font-family='"Liberation Serif", serif' font-size="13.6" text-anchor="middle" font-weight="normal" textLength="26.4" lengthAdjust="spacingAndGlyphs" stroke="#111" stroke-width="0.45">15.0</text>
<text x="426.95" y="250" font-family='"Liberation Serif", serif' font-size="13.6" text-anchor="middle" font-weight="normal" textLength="26.4" lengthAdjust="spacingAndGlyphs" stroke="#111" stroke-width="0.45">15.5</text>
<text x="486.03" y="250" font-family='"Liberation Serif", serif' font-size="13.6" text-anchor="middle" font-weight="normal" textLength="26.4" lengthAdjust="spacingAndGlyphs" stroke="#111" stroke-width="0.45">16.0</text>
<text x="545.1" y="250" font-family='"Liberation Serif", serif' font-size="13.6" text-anchor="middle" font-weight="normal" textLength="26.4" lengthAdjust="spacingAndGlyphs" stroke="#111" stroke-width="0.45">16.5</text>
<g font-family='"Liberation Serif", serif' font-size="13.2" text-anchor="middle" stroke="#111" stroke-width="0.55"><text x="354.44" y="264.9" textLength="8.33" lengthAdjust="spacingAndGlyphs">W</text><text x="361.88" y="264.9" textLength="6.92" lengthAdjust="spacingAndGlyphs">a</text><text x="369.32" y="264.9" textLength="7.26" lengthAdjust="spacingAndGlyphs">v</text><text x="376.76" y="264.9" textLength="6.92" lengthAdjust="spacingAndGlyphs">e</text><text x="384.2" y="264.9" textLength="5.51" lengthAdjust="spacingAndGlyphs">l</text><text x="391.64" y="264.9" textLength="6.92" lengthAdjust="spacingAndGlyphs">e</text><text x="399.08" y="264.9" textLength="7.26" lengthAdjust="spacingAndGlyphs">n</text><text x="406.52" y="264.9" textLength="7.26" lengthAdjust="spacingAndGlyphs">g</text><text x="413.96" y="264.9" textLength="6.4" lengthAdjust="spacingAndGlyphs">t</text><text x="421.4" y="264.9" textLength="7.26" lengthAdjust="spacingAndGlyphs">h</text><text x="436.28" y="264.9" textLength="5.51" lengthAdjust="spacingAndGlyphs">[</text><text x="443.72" y="264.9" textLength="8.33" lengthAdjust="spacingAndGlyphs">m</text><text x="451.16" y="264.9" textLength="5.51" lengthAdjust="spacingAndGlyphs">i</text><text x="458.6" y="264.9" textLength="6.92" lengthAdjust="spacingAndGlyphs">c</text><text x="466.04" y="264.9" textLength="6.4" lengthAdjust="spacingAndGlyphs">r</text><text x="473.48" y="264.9" textLength="7.26" lengthAdjust="spacingAndGlyphs">o</text><text x="480.92" y="264.9" textLength="7.26" lengthAdjust="spacingAndGlyphs">n</text><text x="488.36" y="264.9" textLength="5.51" lengthAdjust="spacingAndGlyphs">]</text></g>
<g font-family='"Liberation Serif", serif' font-size="13.8" text-anchor="middle" stroke="#111" stroke-width="0.55"><text x="430.4" y="193.2" textLength="5.36" lengthAdjust="spacingAndGlyphs">I</text><text x="437.84" y="193.2" textLength="7.44" lengthAdjust="spacingAndGlyphs">R</text><text x="445.28" y="193.2" textLength="7.44" lengthAdjust="spacingAndGlyphs">A</text><text x="452.72" y="193.2" textLength="7.44" lengthAdjust="spacingAndGlyphs">S</text><text x="460.16" y="193.2" textLength="7.26" lengthAdjust="spacingAndGlyphs">3</text><text x="467.6" y="193.2" textLength="7.26" lengthAdjust="spacingAndGlyphs">2</text></g>
<g font-family='"Liberation Serif", serif' font-size="13.2" text-anchor="middle" stroke="#111" stroke-width="0.55" transform="translate(262.4 136.4) rotate(-90)"><text x="-42.9" y="0" textLength="7.15" lengthAdjust="spacingAndGlyphs">O</text><text x="-35.75" y="0" textLength="7.15" lengthAdjust="spacingAndGlyphs">p</text><text x="-28.6" y="0" textLength="6.15" lengthAdjust="spacingAndGlyphs">t</text><text x="-21.45" y="0" textLength="5.29" lengthAdjust="spacingAndGlyphs">i</text><text x="-14.3" y="0" textLength="6.65" lengthAdjust="spacingAndGlyphs">c</text><text x="-7.15" y="0" textLength="6.65" lengthAdjust="spacingAndGlyphs">a</text><text x="0" y="0" textLength="5.29" lengthAdjust="spacingAndGlyphs">l</text><text x="14.3" y="0" textLength="7.15" lengthAdjust="spacingAndGlyphs">D</text><text x="21.45" y="0" textLength="6.65" lengthAdjust="spacingAndGlyphs">e</text><text x="28.6" y="0" textLength="7.15" lengthAdjust="spacingAndGlyphs">p</text><text x="35.75" y="0" textLength="6.15" lengthAdjust="spacingAndGlyphs">t</text><text x="42.9" y="0" textLength="7.15" lengthAdjust="spacingAndGlyphs">h</text></g>
<g font-family='"Liberation Serif", serif' font-size="13.2" text-anchor="middle" stroke="#111" stroke-width="0.55" transform="translate(14.6 136.2) rotate(-90)"><text x="-21.45" y="0" textLength="7.15" lengthAdjust="spacingAndGlyphs">F</text><text x="-14.3" y="0" textLength="5.29" lengthAdjust="spacingAndGlyphs">l</text><text x="-7.15" y="0" textLength="7.15" lengthAdjust="spacingAndGlyphs">u</text><text x="0" y="0" textLength="7.15" lengthAdjust="spacingAndGlyphs">x</text><text x="14.3" y="0" textLength="6.15" lengthAdjust="spacingAndGlyphs">J</text><text x="21.45" y="0" textLength="7.15" lengthAdjust="spacingAndGlyphs">y</text></g>
</g>
</svg>
</body></html>
